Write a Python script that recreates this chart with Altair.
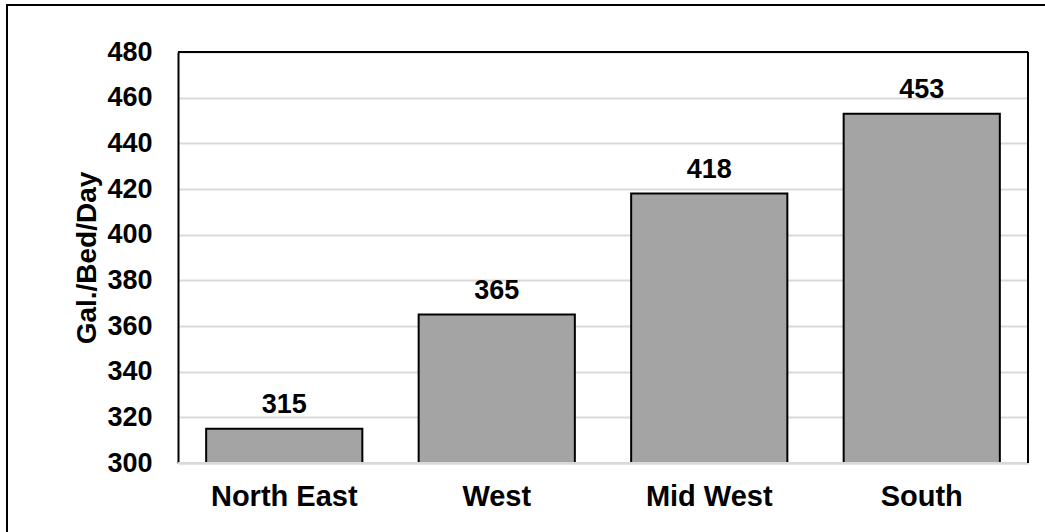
import altair as alt
import pandas as pd

# Daily water use per hospital bed, by U.S. region
regions = ["North East", "West", "Mid West", "South"]
gallons = [315, 365, 418, 453]
y_ticks = [300, 320, 340, 360, 380, 400, 420, 440, 460, 480]
y_floor = 300

df = pd.DataFrame({"region": regions, "gallons": gallons})

FONT = "Liberation Sans"
PLOT_W, PLOT_H = 850, 411

x_enc = alt.X(
    "region:N",
    sort=regions,
    scale=alt.Scale(paddingInner=0, paddingOuter=0),
    axis=alt.Axis(
        title=None,
        labelAngle=0,
        ticks=False,
        domainColor="#d9d9d9",
        domainWidth=2,
        labelFont=FONT,
        labelFontSize=29,
        labelFontWeight="bold",
        labelColor="black",
        labelPadding=19,
    ),
)
y_enc = alt.Y(
    "gallons:Q",
    scale=alt.Scale(domain=[y_floor, 480], nice=False, zero=False),
    axis=alt.Axis(
        values=y_ticks,
        title="Gal./Bed/Day",
        titleFont=FONT,
        titleFontSize=28,
        titleFontWeight="bold",
        titleColor="black",
        titlePadding=5,
        ticks=False,
        domainColor="black",
        domainWidth=2,
        gridColor="#d9d9d9",
        gridWidth=2,
        labelFont=FONT,
        labelFontSize=27,
        labelFontWeight="bold",
        labelColor="black",
        labelPadding=26,
    ),
)

base = alt.Chart(df)

bars = base.mark_bar(
    fill="#a4a4a4",
    stroke="black",
    strokeWidth=2,
    width=alt.RelativeBandSize(0.735),
).encode(x=x_enc, y=y_enc, y2=alt.datum(y_floor))

labels = base.mark_text(
    baseline="alphabetic",
    dy=-16,
    font=FONT,
    fontSize=27,
    fontWeight="bold",
    color="black",
).encode(x=alt.X("region:N", sort=regions), y="gallons:Q", text="gallons:Q")

# dark frame on the top and right of the plot area
top_edge = alt.Chart().mark_rule(color="black", strokeWidth=2).encode(
    x=alt.value(0), x2=alt.value(PLOT_W), y=alt.value(0)
)
right_edge = alt.Chart().mark_rule(color="black", strokeWidth=2).encode(
    x=alt.value(PLOT_W), y=alt.value(0), y2=alt.value(PLOT_H)
)
# light baseline drawn over the foot of the bars
base_line = alt.Chart().mark_rule(color="#d9d9d9", strokeWidth=2).encode(
    x=alt.value(0), x2=alt.value(PLOT_W), y=alt.value(PLOT_H)
)

# outer chart border
frame = alt.Chart().mark_rect(
    fill=None, fillOpacity=0, stroke="black", strokeWidth=2, clip=False
).encode(
    x=alt.value(-171), x2=alt.value(880), y=alt.value(-47), y2=alt.value(500)
)

chart = (
    alt.layer(frame, bars, labels, base_line, top_edge, right_edge)
    .properties(
        width=PLOT_W,
        height=PLOT_H,
        autosize=alt.AutoSizeParams(type="none"),
        padding={"left": 178, "top": 52, "right": 17, "bottom": 69},
        background="white",
    )
    .configure_view(stroke=None)
)

chart.save("out.html", embed_options={"renderer": "svg", "actions": False})
